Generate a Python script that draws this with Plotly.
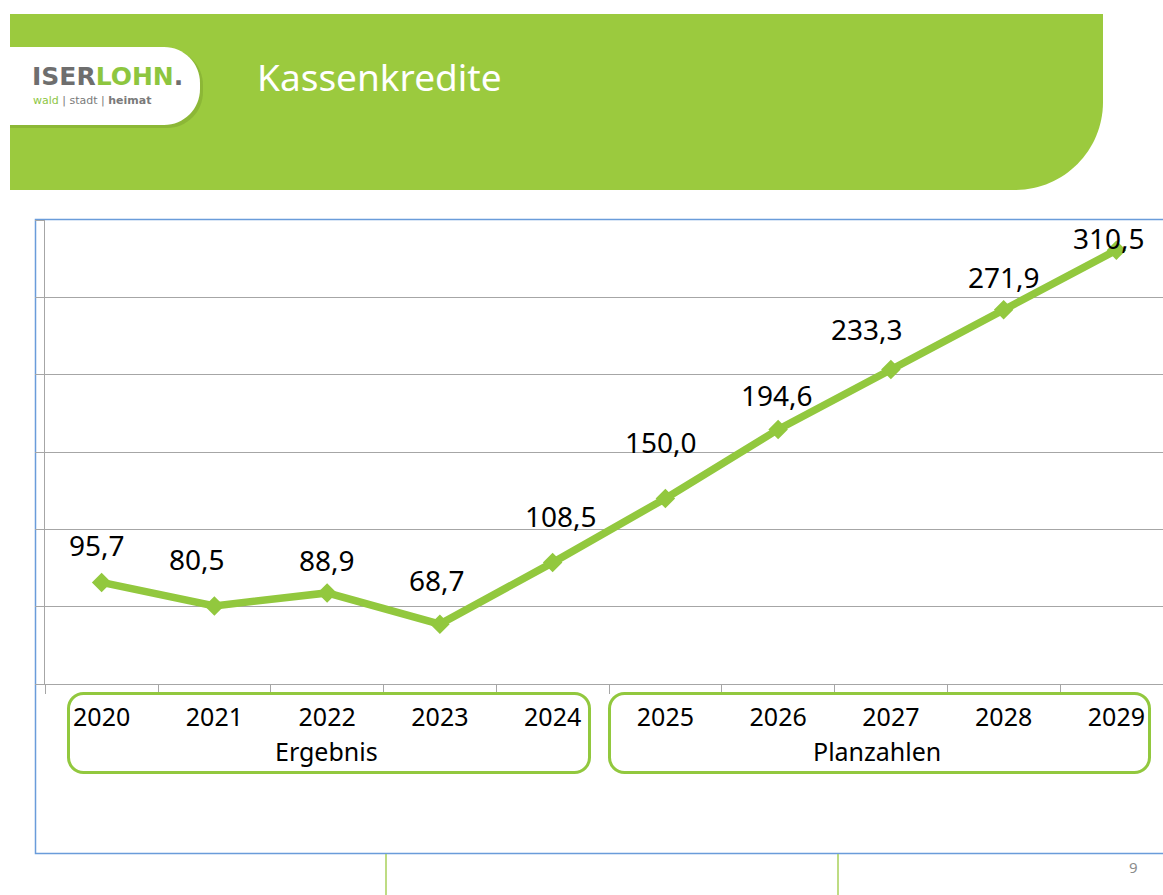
import plotly.graph_objects as go

# ---------------- data ----------------
years = ["2020", "2021", "2022", "2023", "2024", "2025", "2026", "2027", "2028", "2029"]
kassenkredite = [95.7, 80.5, 88.9, 68.7, 108.5, 150.0, 194.6, 233.3, 271.9, 310.5]
group_labels = ["Ergebnis", "Planzahlen"]
title_text = "Kassenkredite"
page_number = "9"

# label offsets in pixels (style only)
label_dx = [-5, -17, 0, -3, 8, -4, -1, -24, 0, -7]
label_dy = [-37, -47, -33, -44, -47, -56, -34, -41, -33, -12]

W, H = 1163, 895
GREEN = "#9BCA3E"
LINE_GREEN = "#92C83E"
GRID = "#A6A6A6"


def px(x):
    return x / W


def py(y):
    return 1 - y / H


def path(cmds):
    out = []
    for cmd in cmds:
        c = cmd[0]
        pts = cmd[1:]
        coords = " ".join(f"{px(pts[i]):.5f},{py(pts[i + 1]):.5f}" for i in range(0, len(pts), 2))
        out.append(f"{c} {coords}")
    return " ".join(out) + " Z"


def rounded_rect(x0, y0, x1, y1, r):
    k = 0.5523 * r
    return path([
        ("M", x0 + r, y0),
        ("L", x1 - r, y0),
        ("C", x1 - r + k, y0, x1, y0 + r - k, x1, y0 + r),
        ("L", x1, y1 - r),
        ("C", x1, y1 - r + k, x1 - r + k, y1, x1 - r, y1),
        ("L", x0 + r, y1),
        ("C", x0 + r - k, y1, x0, y1 - r + k, x0, y1 - r),
        ("L", x0, y0 + r),
        ("C", x0, y0 + r - k, x0 + r - k, y0, x0 + r, y0),
    ])


def pill(x0, y0, x1, y1, rr):
    kk = 0.5523 * rr
    return path([
        ("M", x0, y0),
        ("L", x1 - rr, y0),
        ("C", x1 - rr + kk, y0, x1, y0 + rr - kk, x1, y0 + rr),
        ("L", x1, y1 - rr),
        ("C", x1, y1 - rr + kk, x1 - rr + kk, y1, x1 - rr, y1),
        ("L", x0, y1),
    ])


fig = go.Figure()

fig.add_trace(go.Scatter(
    x=years,
    y=kassenkredite,
    mode="lines+markers",
    line=dict(color=LINE_GREEN, width=7.5),
    marker=dict(symbol="diamond", size=15, color=LINE_GREEN),
    hoverinfo="skip",
    showlegend=False,
    cliponaxis=False,
))

annotations = []

# data labels
for i, (yr, v) in enumerate(zip(years, kassenkredite)):
    annotations.append(dict(
        x=i, y=v, xref="x", yref="y",
        text=f"{v:.1f}".replace(".", ","),
        showarrow=False,
        xanchor="center", yanchor="middle",
        xshift=label_dx[i], yshift=-label_dy[i],
        font=dict(family="Noto Sans", size=28, color="#000000"),
    ))

shapes = []

# header band with rounded bottom-right corner
r = 88
k = 0.5523 * r
shapes.append(dict(
    type="path", xref="paper", yref="paper", layer="below",
    path=path([
        ("M", 10, 14),
        ("L", 1103, 14),
        ("L", 1103, 190 - r),
        ("C", 1103, 190 - r + k, 1103 - r + k, 190, 1103 - r, 190),
        ("L", 10, 190),
    ]),
    fillcolor=GREEN, line=dict(width=0),
))

# logo pill shadow + pill
shapes.append(dict(type="path", xref="paper", yref="paper", layer="below",
                   path=pill(10, 49, 203, 128, 36), fillcolor="rgba(70,100,20,0.18)", line=dict(width=0)))
shapes.append(dict(type="path", xref="paper", yref="paper", layer="below",
                   path=pill(10, 47, 200, 125, 36), fillcolor="#FFFFFF", line=dict(width=0)))

# outer blue frame
shapes.append(dict(type="rect", xref="paper", yref="paper", layer="below",
                   x0=px(35.5), x1=px(1175), y0=py(853.5), y1=py(219.5),
                   line=dict(color="#6A9CDA", width=1.5), fillcolor="rgba(0,0,0,0)"))

# green group boxes
shapes.append(dict(type="path", xref="paper", yref="paper", layer="above",
                   path=rounded_rect(68.5, 693.5, 589.5, 772.5, 15),
                   line=dict(color=LINE_GREEN, width=3), fillcolor="rgba(0,0,0,0)"))
shapes.append(dict(type="path", xref="paper", yref="paper", layer="above",
                   path=rounded_rect(609.5, 693.5, 1149.5, 772.5, 15),
                   line=dict(color=LINE_GREEN, width=3), fillcolor="rgba(0,0,0,0)"))

# thin green lines below frame
for xx in (386, 838):
    shapes.append(dict(type="line", xref="paper", yref="paper", layer="below",
                       x0=px(xx), x1=px(xx), y0=py(854), y1=0,
                       line=dict(color="#A8D05A", width=1.5)))

annotations.append(dict(
    x=px(255), y=py(77), xref="paper", yref="paper", xanchor="left", yanchor="middle",
    text=title_text, showarrow=False,
    font=dict(family="Noto Sans", size=37, color="#FFFFFF"),
))
annotations.append(dict(
    x=px(30), y=py(76), xref="paper", yref="paper", xanchor="left", yanchor="middle",
    text="<b><span style='color:#6E6E6E'>ISER</span><span style='color:#8DC63F'>LOHN</span>"
         "<span style='color:#6E6E6E'>.</span></b>",
    showarrow=False,
    font=dict(family="DejaVu Sans", size=25, color="#6E6E6E"),
))
annotations.append(dict(
    x=px(31), y=py(100), xref="paper", yref="paper", xanchor="left", yanchor="middle",
    text="<span style='color:#8DC63F'>wald</span> | stadt | <b>heimat</b>",
    showarrow=False,
    font=dict(family="DejaVu Sans", size=11, color="#7A7A7A"),
))
annotations.append(dict(
    x=px(326), y=py(751), xref="paper", yref="paper", xanchor="center", yanchor="middle",
    text=group_labels[0], showarrow=False,
    font=dict(family="Noto Sans", size=25, color="#000000"),
))
annotations.append(dict(
    x=px(877), y=py(751), xref="paper", yref="paper", xanchor="center", yanchor="middle",
    text=group_labels[1], showarrow=False,
    font=dict(family="Noto Sans", size=25, color="#000000"),
))
annotations.append(dict(
    x=px(1133), y=py(867), xref="paper", yref="paper", xanchor="center", yanchor="middle",
    text=page_number, showarrow=False,
    font=dict(family="Noto Sans", size=15, color="#8C8C8C"),
))

cat_w = 112.75
x_left = 45.25
x_range_end = -0.5 + (W - x_left) / cat_w

fig.update_layout(
    width=W, height=H,
    margin=dict(l=0, r=0, t=0, b=0),
    paper_bgcolor="#FFFFFF",
    plot_bgcolor="rgba(0,0,0,0)",
    shapes=shapes,
    annotations=annotations,
    showlegend=False,
    xaxis=dict(
        domain=[px(x_left), 1],
        type="category",
        range=[-0.5, x_range_end],
        showgrid=False,
        showline=True, linecolor=GRID, linewidth=1,
        ticks="outside", ticklen=9, tickcolor=GRID, tickwidth=1,
        tickson="boundaries",
        tickfont=dict(family="Noto Sans", size=25, color="#000000"),
        ticklabelstandoff=11,
        fixedrange=True,
        zeroline=False,
    ),
    yaxis=dict(
        domain=[py(684), py(220)],
        range=[30, 330],
        tick0=30, dtick=50,
        showgrid=True, gridcolor=GRID, gridwidth=1,
        showline=True, linecolor=GRID, linewidth=1,
        ticks="outside", ticklen=9, tickcolor=GRID,
        showticklabels=False,
        zeroline=False,
        fixedrange=True,
    ),
)

fig.write_html(
    "out.html",
    config={"displayModeBar": False},
    post_script="document.body.style.margin='0';document.body.style.overflow='hidden';",
)
